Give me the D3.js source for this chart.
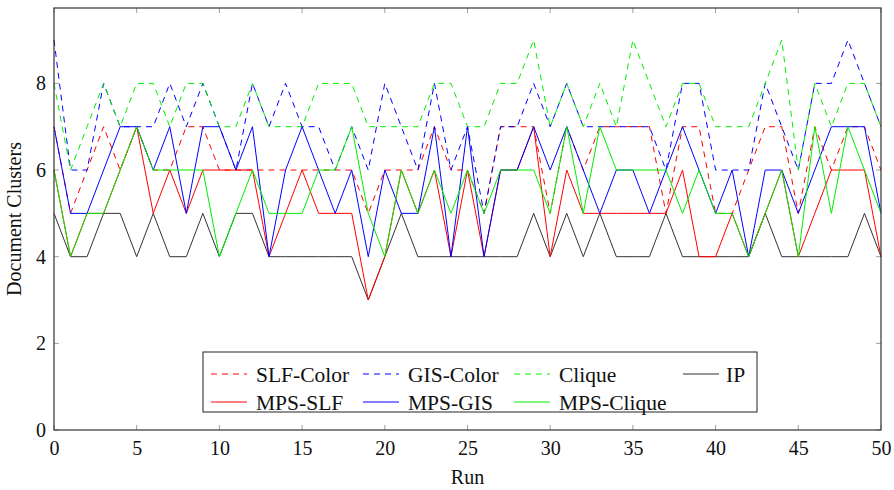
<!DOCTYPE html>
<html>
<head>
<meta charset="utf-8">
<script src="https://cdn.jsdelivr.net/npm/d3@7/dist/d3.min.js"></script>
<style>
  html, body { margin: 0; padding: 0; background: #fff; }
  svg { display: block; }
  text { font-family: "Liberation Serif", "DejaVu Serif", serif; fill: #111; }
</style>
</head>
<body>
<svg id="chart" width="894" height="490"></svg>
<script>
// ---- data ----
const runs = d3.range(0, 51);
const xTicks = [0, 5, 10, 15, 20, 25, 30, 35, 40, 45, 50];
const yTicks = [0, 2, 4, 6, 8];

const slfColor  = [7,5,6,7,6,7,6,6,7,7,6,6,6,6,6,6,6,6,6,5,6,6,6,7,6,6,5,7,7,7,5,7,6,7,7,7,7,5,7,7,5,5,6,7,7,5,7,6,7,7,6];
const gisColor  = [9,6,6,8,7,7,7,8,7,8,7,6,8,7,8,7,7,6,7,6,8,7,6,8,6,7,5,7,7,8,7,8,7,7,7,7,7,6,8,8,6,6,6,8,7,6,8,8,9,8,7];
const clique    = [8,6,7,8,7,8,8,7,8,8,7,7,8,7,7,7,8,8,8,7,7,7,7,8,8,7,7,8,8,9,7,8,7,8,7,9,8,7,8,8,7,7,7,8,9,6,8,7,8,8,7];
const ip        = [5,4,4,5,5,4,5,4,4,5,4,5,5,4,4,4,4,4,4,3,4,5,4,4,4,4,4,4,4,5,4,5,4,5,4,4,4,5,4,4,4,4,4,5,4,4,4,4,4,5,4];
const mpsSlf    = [6,4,5,5,6,7,5,6,5,6,6,6,6,4,5,6,5,5,5,3,4,6,5,6,4,6,4,6,6,7,4,6,5,5,5,5,5,5,6,4,4,5,4,5,6,4,5,6,6,6,4];
const mpsGis    = [7,5,5,6,7,7,6,7,5,7,7,6,7,4,6,7,6,5,6,4,6,5,5,7,4,7,4,6,6,7,6,7,6,5,6,6,5,6,7,6,5,6,4,6,6,5,6,7,7,7,5];
const mpsClique = [6,4,5,5,6,7,6,6,6,6,4,5,6,5,5,5,6,6,7,5,4,6,5,6,5,6,5,6,6,6,5,7,5,7,6,6,6,6,5,6,5,5,4,5,6,4,7,5,7,6,5];

const seriesNames = ["SLF-Color", "GIS-Color", "Clique", "IP", "MPS-SLF", "MPS-GIS", "MPS-Clique"];
const seriesData  = [slfColor, gisColor, clique, ip, mpsSlf, mpsGis, mpsClique];
const seriesColors = ["#ff0000", "#0000ff", "#00ee00", "#333333", "#ff0000", "#0000ff", "#00ee00"];
const seriesDashed = [true, true, true, false, false, false, false];

// ---- layout ----
const svg = d3.select("#chart");
const L = 54, R = 881, T = 8, B = 430;
const x = d3.scaleLinear().domain([0, 50]).range([L, R]);
const y = d3.scaleLinear().domain([0, 9.74]).range([B, T]);

// ticks (inward, on all four sides)
const tickLen = 5;
const tg = svg.append("g").attr("stroke", "#888").attr("stroke-width", 0.8);
xTicks.forEach(t => {
  tg.append("line").attr("x1", x(t)).attr("x2", x(t)).attr("y1", B).attr("y2", B - tickLen);
  tg.append("line").attr("x1", x(t)).attr("x2", x(t)).attr("y1", T).attr("y2", T + tickLen);
});
yTicks.forEach(t => {
  tg.append("line").attr("x1", L).attr("x2", L + tickLen).attr("y1", y(t)).attr("y2", y(t));
  tg.append("line").attr("x1", R).attr("x2", R - tickLen).attr("y1", y(t)).attr("y2", y(t));
});

// axes via d3 (labels only, tick marks drawn above)
const xAxis = d3.axisBottom(x).tickValues(xTicks).tickSize(0).tickPadding(10).tickFormat(d3.format("d"));
const yAxis = d3.axisLeft(y).tickValues(yTicks).tickSize(0).tickPadding(8).tickFormat(d3.format("d"));
const gx = svg.append("g").attr("transform", `translate(0,${B})`).call(xAxis);
const gy = svg.append("g").attr("transform", `translate(${L},0)`).call(yAxis);
[gx, gy].forEach(g => {
  g.select(".domain").remove();
  g.selectAll("text").attr("font-size", 20).attr("font-family", "Liberation Serif, serif").attr("fill", "#111");
});
gx.selectAll("text").attr("dy", "0.75em");

// lines
const line = d3.line().x((d, i) => x(runs[i])).y(d => y(d));
seriesData.forEach((s, k) => {
  svg.append("path")
    .datum(s)
    .attr("d", line)
    .attr("fill", "none")
    .attr("stroke", seriesColors[k])
    .attr("stroke-width", 1)
    .attr("stroke-dasharray", seriesDashed[k] ? "6,5" : null);
});

// frame
svg.append("rect").attr("x", L).attr("y", T).attr("width", R - L).attr("height", B - T)
  .attr("fill", "none").attr("stroke", "#333").attr("stroke-width", 1.2);

// axis labels
svg.append("text").attr("x", (L + R) / 2).attr("y", 484).attr("text-anchor", "middle")
  .attr("font-size", 20).text("Run");
svg.append("text").attr("transform", `translate(21,${(T + B) / 2}) rotate(-90)`)
  .attr("text-anchor", "middle").attr("font-size", 20).text("Document Clusters");

// legend
const lg = svg.append("g");
lg.append("rect").attr("x", 203).attr("y", 352).attr("width", 554).attr("height", 60)
  .attr("fill", "#fff").attr("stroke", "#222").attr("stroke-width", 1);
const colX = [211, 363, 514, 683];
const textX = [256, 408, 559, 726];
const rowY = [374, 402];
seriesNames.forEach((name, k) => {
  const col = k < 4 ? k : k - 4;
  const row = k < 4 ? 0 : 1;
  lg.append("line").attr("x1", colX[col]).attr("x2", colX[col] + 36)
    .attr("y1", rowY[row]).attr("y2", rowY[row])
    .attr("stroke", seriesColors[k]).attr("stroke-width", 1)
    .attr("stroke-dasharray", seriesDashed[k] ? "6,5" : null);
  lg.append("text").attr("x", textX[col]).attr("y", rowY[row]).attr("dy", "0.35em")
    .attr("font-size", 21.5).text(name);
});
</script>
</body>
</html>
